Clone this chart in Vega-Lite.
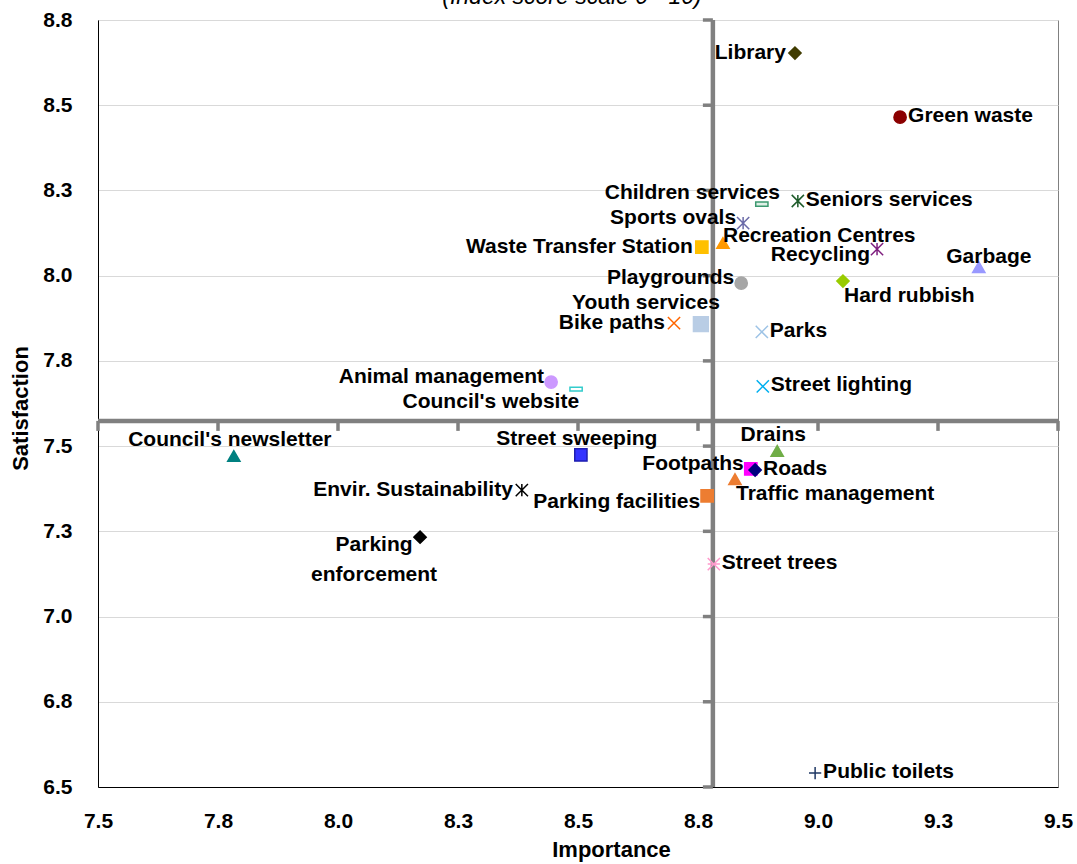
{
  "$schema": "https://vega.github.io/schema/vega-lite/v6.json",
  "width": 960,
  "height": 767,
  "autosize": "none",
  "padding": {"left": 98, "top": 20, "right": 19, "bottom": 77},
  "background": "white",
  "title": {
    "text": "(Index score scale 0 - 10)",
    "font": "Liberation Sans",
    "fontSize": 23,
    "fontStyle": "italic",
    "fontWeight": "normal",
    "color": "#000000",
    "anchor": "middle",
    "frame": "group",
    "dx": -6,
    "baseline": "alphabetic",
    "offset": -18
  },
  "config": {
    "view": {"stroke": "#808080", "strokeWidth": 1},
    "font": "Liberation Sans"
  },
  "datasets": {
    "points": [
      {"Item": "Library", "Importance": 8.952, "Satisfaction": 8.653, "LabelPos": "L"},
      {"Item": "Green waste", "Importance": 9.171, "Satisfaction": 8.465, "LabelPos": "R"},
      {"Item": "Children services", "Importance": 8.883, "Satisfaction": 8.21, "LabelPos": "TL"},
      {"Item": "Seniors services", "Importance": 8.958, "Satisfaction": 8.219, "LabelPos": "R"},
      {"Item": "Sports ovals", "Importance": 8.844, "Satisfaction": 8.154, "LabelPos": "LU"},
      {"Item": "Recreation Centres", "Importance": 8.802, "Satisfaction": 8.096, "LabelPos": "TR"},
      {"Item": "Waste Transfer Station", "Importance": 8.758, "Satisfaction": 8.084, "LabelPos": "L"},
      {"Item": "Recycling", "Importance": 9.123, "Satisfaction": 8.078, "LabelPos": "LD"},
      {"Item": "Garbage", "Importance": 9.335, "Satisfaction": 8.025, "LabelPos": "TS"},
      {"Item": "Playgrounds", "Importance": 8.84, "Satisfaction": 7.978, "LabelPos": "LU"},
      {"Item": "Hard rubbish", "Importance": 9.052, "Satisfaction": 7.984, "LabelPos": "BR"},
      {"Item": "Youth services", "Importance": 8.756, "Satisfaction": 7.858, "LabelPos": "TLH"},
      {"Item": "Bike paths", "Importance": 8.7, "Satisfaction": 7.861, "LabelPos": "L"},
      {"Item": "Parks", "Importance": 8.883, "Satisfaction": 7.835, "LabelPos": "R"},
      {"Item": "Animal management", "Importance": 8.444, "Satisfaction": 7.688, "LabelPos": "LU"},
      {"Item": "Council's website", "Importance": 8.496, "Satisfaction": 7.667, "LabelPos": "BL"},
      {"Item": "Street lighting", "Importance": 8.885, "Satisfaction": 7.675, "LabelPos": "R"},
      {"Item": "Council's newsletter", "Importance": 7.783, "Satisfaction": 7.471, "LabelPos": "T"},
      {"Item": "Street sweeping", "Importance": 8.506, "Satisfaction": 7.474, "LabelPos": "T"},
      {"Item": "Drains", "Importance": 8.915, "Satisfaction": 7.486, "LabelPos": "T"},
      {"Item": "Footpaths", "Importance": 8.86, "Satisfaction": 7.433, "LabelPos": "LU"},
      {"Item": "Roads", "Importance": 8.869, "Satisfaction": 7.43, "LabelPos": "R"},
      {"Item": "Traffic management", "Importance": 8.827, "Satisfaction": 7.403, "LabelPos": "BR"},
      {"Item": "Envir. Sustainability", "Importance": 8.383, "Satisfaction": 7.371, "LabelPos": "L"},
      {"Item": "Parking facilities", "Importance": 8.769, "Satisfaction": 7.354, "LabelPos": "LD"},
      {"Item": "Parking enforcement", "Importance": 8.171, "Satisfaction": 7.233, "LabelPos": "BC"},
      {"Item": "Street trees", "Importance": 8.783, "Satisfaction": 7.154, "LabelPos": "R"},
      {"Item": "Public toilets", "Importance": 8.994, "Satisfaction": 6.541, "LabelPos": "R"}
    ],
    "quadrant": [
      {"Importance": 8.781, "Satisfaction": 7.574}
    ],
    "xticks": [
      {"Importance": 7.5}, {"Importance": 7.75}, {"Importance": 8.0}, {"Importance": 8.25},
      {"Importance": 8.5}, {"Importance": 8.75}, {"Importance": 9.0}, {"Importance": 9.25},
      {"Importance": 9.5}
    ],
    "yticks": [
      {"Satisfaction": 6.5}, {"Satisfaction": 6.75}, {"Satisfaction": 7.0}, {"Satisfaction": 7.25},
      {"Satisfaction": 7.5}, {"Satisfaction": 7.75}, {"Satisfaction": 8.0}, {"Satisfaction": 8.25},
      {"Satisfaction": 8.5}, {"Satisfaction": 8.75}
    ]
  },
  "layer": [
    {
      "data": {"name": "points"},
      "mark": {"type": "point", "opacity": 0},
      "encoding": {
        "x": {
          "field": "Importance", "type": "quantitative",
          "scale": {"domain": [7.5, 9.5], "nice": false, "zero": false},
          "axis": {
            "values": [7.5, 7.75, 8.0, 8.25, 8.5, 8.75, 9.0, 9.25, 9.5],
            "format": ".1f", "grid": false, "ticks": false,
            "domainColor": "#000000", "domainWidth": 1,
            "labelFont": "Liberation Sans", "labelFontSize": 21, "labelFontWeight": "bold", "labelColor": "#000000",
            "labelPadding": 23, "labelFlush": false,
            "title": "Importance", "titleFont": "Liberation Sans", "titleFontSize": 22, "titleFontWeight": "bold",
            "titleColor": "#000000", "titleX": 513, "titleY": 69, "titleBaseline": "alphabetic", "titleAlign": "center"
          }
        },
        "y": {
          "field": "Satisfaction", "type": "quantitative",
          "scale": {"domain": [6.5, 8.75], "nice": false, "zero": false},
          "axis": {
            "values": [6.5, 6.75, 7.0, 7.25, 7.5, 7.75, 8.0, 8.25, 8.5, 8.75],
            "format": ".1f", "grid": true, "gridColor": "#d9d9d9", "gridWidth": 1, "ticks": false,
            "domainColor": "#000000", "domainWidth": 1,
            "labelFont": "Liberation Sans", "labelFontSize": 21, "labelFontWeight": "bold", "labelColor": "#000000",
            "labelPadding": 26, "labelFlush": false,
            "title": "Satisfaction", "titleFont": "Liberation Sans", "titleFontSize": 22, "titleFontWeight": "bold",
            "titleColor": "#000000", "titleX": -78, "titleY": 388, "titleBaseline": "middle", "titleAlign": "center", "titleAngle": 270
          }
        }
      }
    },
    {
      "data": {"name": "quadrant"},
      "mark": {"type": "rule", "color": "#808080", "strokeWidth": 4.5},
      "encoding": {"x": {"field": "Importance", "type": "quantitative"}}
    },
    {
      "data": {"name": "quadrant"},
      "mark": {"type": "rule", "color": "#808080", "strokeWidth": 4.5},
      "encoding": {"y": {"field": "Satisfaction", "type": "quantitative"}}
    },
    {
      "data": {"name": "xticks"},
      "mark": {"type": "tick", "orient": "vertical", "color": "#808080", "size": 10, "thickness": 3.5, "yOffset": 5, "opacity": 1},
      "encoding": {
        "x": {"field": "Importance", "type": "quantitative"},
        "y": {"datum": 7.574, "type": "quantitative"}
      }
    },
    {
      "data": {"name": "yticks"},
      "mark": {"type": "tick", "orient": "horizontal", "color": "#808080", "size": 10, "thickness": 3.5, "xOffset": -5, "opacity": 1},
      "encoding": {
        "y": {"field": "Satisfaction", "type": "quantitative"},
        "x": {"datum": 8.781, "type": "quantitative"}
      }
    },
    {
      "data": {"name": "points"},
      "mark": {"type": "point", "filled": false, "strokeWidth": 1.5, "opacity": 1},
      "encoding": {
        "x": {"field": "Importance", "type": "quantitative"},
        "y": {"field": "Satisfaction", "type": "quantitative"},
        "size": {"condition": {"test": "datum.Item === 'Youth services'", "value": 220}, "value": 150},
        "shape": {
          "field": "Item", "type": "nominal", "legend": null,
          "scale": {
            "domain": ["Library", "Green waste", "Children services", "Seniors services", "Sports ovals", "Recreation Centres", "Waste Transfer Station", "Recycling", "Garbage", "Playgrounds", "Hard rubbish", "Youth services", "Bike paths", "Parks", "Animal management", "Council's website", "Street lighting", "Council's newsletter", "Street sweeping", "Drains", "Footpaths", "Roads", "Traffic management", "Envir. Sustainability", "Parking facilities", "Parking enforcement", "Street trees", "Public toilets"],
            "range": ["diamond", "circle", "M-1,-0.35L1,-0.35L1,0.35L-1,0.35Z", "M-1,-1L1,1M-1,1L1,-1M0,-1L0,1", "M-1,-1L1,1M-1,1L1,-1M0,-1L0,1", "triangle-up", "square", "M-1,-1L1,1M-1,1L1,-1M0,-1L0,1", "triangle-up", "circle", "diamond", "square", "M-1,-1L1,1M-1,1L1,-1", "M-1,-1L1,1M-1,1L1,-1", "circle", "M-1,-0.3L1,-0.3L1,0.3L-1,0.3Z", "M-1,-1L1,1M-1,1L1,-1", "triangle-up", "square", "triangle-up", "square", "diamond", "triangle-up", "M-1,-1L1,1M-1,1L1,-1M0,-1L0,1", "square", "diamond", "M-1,-1L1,1M-1,1L1,-1M-1,0L1,0", "M-1,0L1,0M0,-1L0,1"]
          }
        },
        "fill": {
          "field": "Item", "type": "nominal", "legend": null,
          "scale": {
            "domain": ["Library", "Green waste", "Children services", "Seniors services", "Sports ovals", "Recreation Centres", "Waste Transfer Station", "Recycling", "Garbage", "Playgrounds", "Hard rubbish", "Youth services", "Bike paths", "Parks", "Animal management", "Council's website", "Street lighting", "Council's newsletter", "Street sweeping", "Drains", "Footpaths", "Roads", "Traffic management", "Envir. Sustainability", "Parking facilities", "Parking enforcement", "Street trees", "Public toilets"],
            "range": ["#403C00", "#8B0000", "#DFF0E6", "#1E5B2A", "#6B6BA8", "#FF9900", "#FFC000", "#7F1F7F", "#9999FF", "#A6A6A6", "#99CC00", "#B9CDE5", "#FF6600", "#9DC3E6", "#CC99FF", "#FFFFFF", "#00B0F0", "#008080", "#3333FF", "#70AD47", "#FF00FF", "#000080", "#ED7D31", "#000000", "#ED7D31", "#000000", "#FF99CC", "#1F3864"]
          }
        },
        "stroke": {
          "field": "Item", "type": "nominal", "legend": null,
          "scale": {
            "domain": ["Library", "Green waste", "Children services", "Seniors services", "Sports ovals", "Recreation Centres", "Waste Transfer Station", "Recycling", "Garbage", "Playgrounds", "Hard rubbish", "Youth services", "Bike paths", "Parks", "Animal management", "Council's website", "Street lighting", "Council's newsletter", "Street sweeping", "Drains", "Footpaths", "Roads", "Traffic management", "Envir. Sustainability", "Parking facilities", "Parking enforcement", "Street trees", "Public toilets"],
            "range": ["#403C00", "#8B0000", "#3D9970", "#1E5B2A", "#6B6BA8", "#FF9900", "#FFC000", "#7F1F7F", "#9999FF", "#A6A6A6", "#99CC00", "#B9CDE5", "#FF6600", "#9DC3E6", "#CC99FF", "#33CCCC", "#00B0F0", "#008080", "#1F1FB0", "#70AD47", "#FF00FF", "#000080", "#ED7D31", "#000000", "#ED7D31", "#000000", "#FF99CC", "#1F3864"]
          }
        }
      }
    },
    {
      "data": {"name": "points"},
      "transform": [{"filter": "datum.LabelPos === 'L'"}],
      "mark": {"type": "text", "align": "right", "baseline": "middle", "dx": -9, "dy": 0, "fontSize": 21, "fontWeight": "bold", "color": "#000000"},
      "encoding": {"x": {"field": "Importance", "type": "quantitative"}, "y": {"field": "Satisfaction", "type": "quantitative"}, "text": {"field": "Item"}}
    },
    {
      "data": {"name": "points"},
      "transform": [{"filter": "datum.LabelPos === 'LU'"}],
      "mark": {"type": "text", "align": "right", "baseline": "middle", "dx": -7, "dy": -5, "fontSize": 21, "fontWeight": "bold", "color": "#000000"},
      "encoding": {"x": {"field": "Importance", "type": "quantitative"}, "y": {"field": "Satisfaction", "type": "quantitative"}, "text": {"field": "Item"}}
    },
    {
      "data": {"name": "points"},
      "transform": [{"filter": "datum.LabelPos === 'LD'"}],
      "mark": {"type": "text", "align": "right", "baseline": "middle", "dx": -7, "dy": 6, "fontSize": 21, "fontWeight": "bold", "color": "#000000"},
      "encoding": {"x": {"field": "Importance", "type": "quantitative"}, "y": {"field": "Satisfaction", "type": "quantitative"}, "text": {"field": "Item"}}
    },
    {
      "data": {"name": "points"},
      "transform": [{"filter": "datum.LabelPos === 'R'"}],
      "mark": {"type": "text", "align": "left", "baseline": "middle", "dx": 8, "dy": -1, "fontSize": 21, "fontWeight": "bold", "color": "#000000"},
      "encoding": {"x": {"field": "Importance", "type": "quantitative"}, "y": {"field": "Satisfaction", "type": "quantitative"}, "text": {"field": "Item"}}
    },
    {
      "data": {"name": "points"},
      "transform": [{"filter": "datum.LabelPos === 'T'"}],
      "mark": {"type": "text", "align": "center", "baseline": "middle", "dx": -4, "dy": -16, "fontSize": 21, "fontWeight": "bold", "color": "#000000"},
      "encoding": {"x": {"field": "Importance", "type": "quantitative"}, "y": {"field": "Satisfaction", "type": "quantitative"}, "text": {"field": "Item"}}
    },
    {
      "data": {"name": "points"},
      "transform": [{"filter": "datum.LabelPos === 'TS'"}],
      "mark": {"type": "text", "align": "center", "baseline": "middle", "dx": 10, "dy": -10, "fontSize": 21, "fontWeight": "bold", "color": "#000000"},
      "encoding": {"x": {"field": "Importance", "type": "quantitative"}, "y": {"field": "Satisfaction", "type": "quantitative"}, "text": {"field": "Item"}}
    },
    {
      "data": {"name": "points"},
      "transform": [{"filter": "datum.LabelPos === 'TL'"}],
      "mark": {"type": "text", "align": "right", "baseline": "middle", "dx": 18, "dy": -11, "fontSize": 21, "fontWeight": "bold", "color": "#000000"},
      "encoding": {"x": {"field": "Importance", "type": "quantitative"}, "y": {"field": "Satisfaction", "type": "quantitative"}, "text": {"field": "Item"}}
    },
    {
      "data": {"name": "points"},
      "transform": [{"filter": "datum.LabelPos === 'TLH'"}],
      "mark": {"type": "text", "align": "right", "baseline": "middle", "dx": 19, "dy": -21, "fontSize": 21, "fontWeight": "bold", "color": "#000000"},
      "encoding": {"x": {"field": "Importance", "type": "quantitative"}, "y": {"field": "Satisfaction", "type": "quantitative"}, "text": {"field": "Item"}}
    },
    {
      "data": {"name": "points"},
      "transform": [{"filter": "datum.LabelPos === 'TR'"}],
      "mark": {"type": "text", "align": "left", "baseline": "middle", "dx": 0, "dy": -7, "fontSize": 21, "fontWeight": "bold", "color": "#000000"},
      "encoding": {"x": {"field": "Importance", "type": "quantitative"}, "y": {"field": "Satisfaction", "type": "quantitative"}, "text": {"field": "Item"}}
    },
    {
      "data": {"name": "points"},
      "transform": [{"filter": "datum.LabelPos === 'BL'"}],
      "mark": {"type": "text", "align": "right", "baseline": "middle", "dx": 3, "dy": 13, "fontSize": 21, "fontWeight": "bold", "color": "#000000"},
      "encoding": {"x": {"field": "Importance", "type": "quantitative"}, "y": {"field": "Satisfaction", "type": "quantitative"}, "text": {"field": "Item"}}
    },
    {
      "data": {"name": "points"},
      "transform": [{"filter": "datum.LabelPos === 'BR'"}],
      "mark": {"type": "text", "align": "left", "baseline": "middle", "dx": 1, "dy": 15, "fontSize": 21, "fontWeight": "bold", "color": "#000000"},
      "encoding": {"x": {"field": "Importance", "type": "quantitative"}, "y": {"field": "Satisfaction", "type": "quantitative"}, "text": {"field": "Item"}}
    },
    {
      "data": {"name": "points"},
      "transform": [{"filter": "datum.LabelPos === 'BC'"}],
      "mark": {"type": "text", "align": "center", "baseline": "middle", "dx": -46, "dy": 8, "lineBreak": " ", "lineHeight": 30, "fontSize": 21, "fontWeight": "bold", "color": "#000000"},
      "encoding": {"x": {"field": "Importance", "type": "quantitative"}, "y": {"field": "Satisfaction", "type": "quantitative"}, "text": {"field": "Item"}}
    }
  ]
}
